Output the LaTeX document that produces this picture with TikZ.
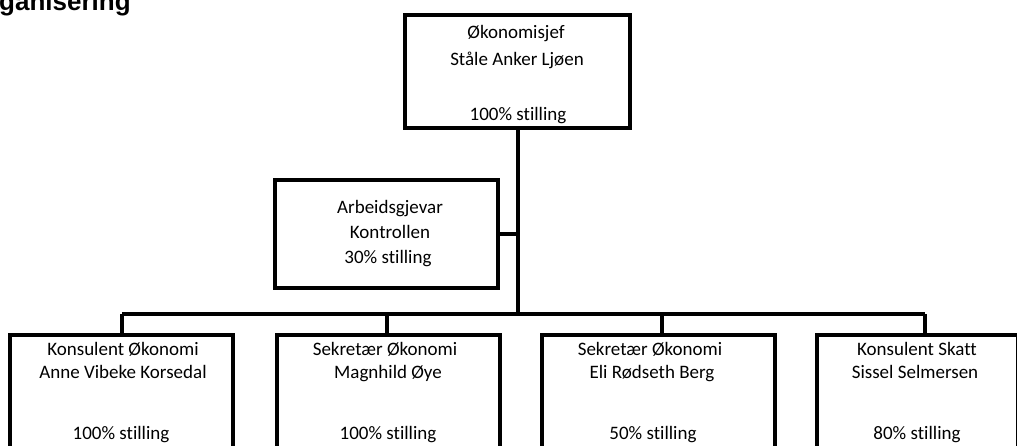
\documentclass[tikz,border=0pt]{standalone}
\usepackage{fontspec}
\setmainfont{Carlito}[Ligatures=NoCommon]
\newfontfamily\titlefont{Liberation Sans}
\begin{document}
\begin{tikzpicture}[x=1pt,y=-1pt,
  box/.style={draw=black,line width=3.3pt,inner sep=0pt,outer sep=0pt},
  conn/.style={draw=black,line width=3.3pt},
  txt/.style={font=\fontsize{19}{21}\selectfont,anchor=base}]
\useasboundingbox (0,0) rectangle (1017,445);
\clip (0,0) rectangle (1017,445);
\node[anchor=base west,inner sep=0pt,font=\titlefont\bfseries\fontsize{26}{28}\selectfont] (title) at (-1,10) {ganisering};
% top box
\node[box,minimum width=225pt,minimum height=113pt] (top) at (517.5,71.5) {};
\node[txt] (t1) at (516,38) {Økonomisjef};
\node[txt] (t2) at (517,65) {Ståle Anker Ljøen};
\node[txt] (t3) at (518,120) {100\% stilling};
% staff box
\node[box,minimum width=223pt,minimum height=108pt] (staff) at (386.5,234) {};
\node[txt] (s1) at (390,213) {Arbeidsgjevar};
\node[txt] (s2) at (390,238) {Kontrollen};
\node[txt] (s3) at (388,263) {30\% stilling};
% bottom boxes
\node[box,minimum width=223pt,minimum height=135pt] (bx1) at (121.5,402.5) {};
\node[box,minimum width=223pt,minimum height=135pt] (bx2) at (388.5,402.5) {};
\node[box,minimum width=233pt,minimum height=135pt] (bx3) at (658.5,402.5) {};
\node[box,minimum width=201pt,minimum height=135pt] (bx4) at (917.5,402.5) {};
% connectors
\coordinate (busC) at (518,314);
\coordinate (busL) at (122,314);
\coordinate (busR) at (925,314);
\coordinate (drop2) at (387,314);
\coordinate (drop3) at (662,314);
\draw[conn] (top.south -| busC) -- (busC);
\draw[conn] (staff.east) -- (staff.east -| busC);
\draw[conn] (busL) -- (busR);
\draw[conn] (busL) -- (busL |- bx1.north);
\draw[conn] (drop2) -- (drop2 |- bx2.north);
\draw[conn] (drop3) -- (drop3 |- bx3.north);
\draw[conn] (busR) -- (busR |- bx4.north);
% texts
\node[txt] (a1) at (123,355) {Konsulent Økonomi};
\node[txt] (a2) at (123,378) {Anne Vibeke Korsedal};
\node[txt] (a3) at (121,439) {100\% stilling};
\node[txt] (b1) at (385,355) {Sekretær Økonomi};
\node[txt] (b2) at (388,378) {Magnhild Øye};
\node[txt] (b3) at (388,439) {100\% stilling};
\node[txt] (c1) at (650,355) {Sekretær Økonomi};
\node[txt] (c2) at (652,378) {Eli Rødseth Berg};
\node[txt] (c3) at (653,439) {50\% stilling};
\node[txt] (d1) at (917,355) {Konsulent Skatt};
\node[txt] (d2) at (915,378) {Sissel Selmersen};
\node[txt] (d3) at (917,439) {80\% stilling};
\end{tikzpicture}
\end{document}
